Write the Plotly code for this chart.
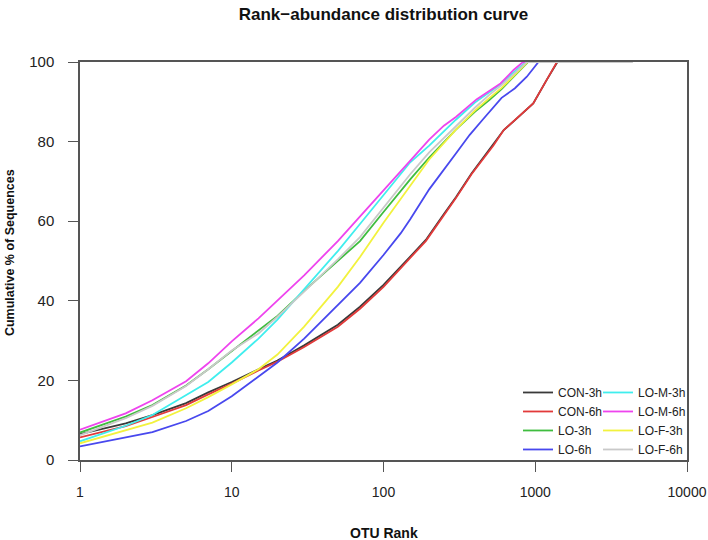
import plotly.graph_objects as go

# ---------------- data ----------------
series_names = ["CON-3h", "CON-6h", "LO-3h", "LO-6h", "LO-M-3h", "LO-M-6h", "LO-F-3h", "LO-F-6h"]

con3h_rank = [1, 2, 3, 5, 7, 10, 15, 20, 30, 50, 70, 100, 150, 190, 250, 300, 380, 450, 530, 620, 735, 970, 1190, 1400, 2500]
con3h_pct = [6.5, 9.2, 11.3, 14.3, 17.0, 19.6, 22.8, 25.0, 28.8, 34.0, 38.5, 44.0, 51.1, 55.3, 61.8, 66.0, 72.0, 75.8, 79.2, 82.9, 85.4, 89.6, 95.5, 100, 100]

con6h_rank = [1, 2, 3, 5, 7, 10, 15, 20, 30, 50, 70, 100, 150, 190, 250, 300, 380, 450, 530, 620, 735, 970, 1190, 1390, 2800]
con6h_pct = [5.7, 8.5, 10.8, 13.8, 16.5, 19.2, 22.5, 24.7, 28.4, 33.5, 38.0, 43.5, 50.8, 55.0, 61.5, 65.8, 71.8, 75.6, 79.0, 82.9, 85.4, 89.6, 95.5, 100, 100]

lo3h_rank = [1, 2, 3, 5, 7, 10, 15, 20, 30, 50, 70, 100, 150, 200, 300, 400, 500, 600, 700, 895, 3000]
lo3h_pct = [6.9, 10.9, 13.8, 18.7, 22.8, 27.3, 32.6, 36.2, 42.5, 50.0, 55.0, 62.3, 70.5, 76.0, 83.0, 87.5, 90.5, 93.2, 95.8, 100, 100]

lo6h_rank = [1, 2, 3, 5, 7, 10, 15, 20, 30, 50, 70, 100, 130, 150, 200, 300, 370, 450, 520, 600, 735, 880, 1050, 3500]
lo6h_pct = [3.4, 5.6, 7.0, 9.8, 12.3, 16.0, 21.0, 24.5, 30.5, 38.8, 44.5, 51.5, 57.0, 60.5, 68.0, 77.0, 81.7, 85.5, 88.4, 91.0, 93.4, 96.3, 100, 100]

lom3h_rank = [1, 2, 3, 5, 7, 10, 15, 20, 30, 50, 70, 100, 150, 200, 300, 400, 500, 600, 700, 870, 2600]
lom3h_pct = [4.7, 8.6, 11.3, 16.3, 19.6, 24.5, 30.5, 35.3, 42.8, 52.5, 59.3, 66.5, 74.8, 79.0, 85.5, 89.8, 92.5, 94.6, 97.0, 100, 100]

lom6h_rank = [1, 2, 3, 5, 7, 10, 15, 20, 30, 50, 70, 100, 150, 200, 250, 300, 410, 500, 590, 720, 830, 3200]
lom6h_pct = [7.6, 11.7, 15.0, 19.8, 24.3, 29.8, 35.6, 40.0, 46.4, 55.0, 61.2, 68.0, 75.2, 80.5, 84.0, 86.2, 90.6, 92.8, 94.6, 98.0, 100, 100]

lof3h_rank = [1, 2, 3, 5, 7, 10, 15, 20, 30, 50, 70, 100, 150, 200, 300, 400, 500, 600, 700, 890, 3800]
lof3h_pct = [4.2, 7.4, 9.4, 13.0, 15.8, 19.0, 22.8, 26.5, 33.5, 43.5, 51.0, 59.6, 69.0, 75.5, 83.0, 87.8, 91.0, 93.5, 96.0, 100, 100]

lof6h_rank = [1, 2, 3, 5, 7, 10, 15, 20, 30, 50, 70, 100, 150, 200, 300, 400, 500, 600, 700, 880, 4400]
lof6h_pct = [6.2, 10.5, 13.6, 18.6, 22.8, 27.5, 31.8, 36.0, 42.3, 50.4, 56.0, 63.4, 71.8, 77.3, 84.0, 88.5, 91.8, 94.2, 96.5, 100, 100]

x_tick_vals = [1, 10, 100, 1000, 10000]
x_tick_text = ["1", "10", "100", "1000", "10000"]
y_tick_vals = [0, 20, 40, 60, 80, 100]

# ---------------- styling ----------------
colors = ["#3a3a3a", "#e23a3a", "#3fbd3f", "#4848ee", "#40eeee", "#ee44ee", "#f2f23e", "#c9c9c9"]
all_ranks = [con3h_rank, con6h_rank, lo3h_rank, lo6h_rank, lom3h_rank, lom6h_rank, lof3h_rank, lof6h_rank]
all_pcts = [con3h_pct, con6h_pct, lo3h_pct, lo6h_pct, lom3h_pct, lom6h_pct, lof3h_pct, lof6h_pct]

FONT = "Arial, Liberation Sans, sans-serif"
AXC = "#555555"

fig = go.Figure()
for i, (name, xr, yp, col) in enumerate(zip(series_names, all_ranks, all_pcts, colors)):
    fig.add_trace(go.Scatter(
        x=xr, y=yp, mode="lines", name=name,
        line=dict(color=col, width=1.8),
        legend="legend" if i < 4 else "legend2",
    ))

legend_common = dict(
    font=dict(family=FONT, size=12, color="#222222"),
    bgcolor="rgba(0,0,0,0)", borderwidth=0,
    yanchor="bottom", y=-0.01, xanchor="left",
    tracegroupgap=0,
)

fig.update_layout(
    width=708, height=540,
    margin=dict(l=80, r=21, t=62, b=80, autoexpand=False),
    paper_bgcolor="white", plot_bgcolor="white",
    font=dict(family=FONT, color="#222222"),
    title=dict(
        text="Rank\u2212abundance distribution curve",
        font=dict(family=FONT, size=17, weight="bold", color="#111111"),
        x=0.5, xref="paper", xanchor="center",
        y=1 - 14 / 540, yref="container", yanchor="middle",
    ),
    legend=dict(x=0.7216, **legend_common),
    legend2=dict(x=0.8534, **legend_common),
    xaxis=dict(
        type="log", range=[0, 4],
        tickvals=x_tick_vals, ticktext=x_tick_text,
        ticks="outside", ticklen=10, tickwidth=1.3, tickcolor=AXC,
        showline=True, linecolor=AXC, linewidth=1.5, mirror=True,
        showgrid=False, zeroline=False, layer="below traces",
        tickfont=dict(family=FONT, size=14, color="#222222"),
        ticklabelstandoff=8,
    ),
    yaxis=dict(
        range=[0, 100],
        tickvals=y_tick_vals,
        ticks="outside", ticklen=10, tickwidth=1.3, tickcolor=AXC,
        showline=True, linecolor=AXC, linewidth=1.5, mirror=True,
        showgrid=False, zeroline=False, layer="below traces",
        tickfont=dict(family=FONT, size=15, color="#222222"),
        ticklabelstandoff=11,
    ),
    annotations=[
        dict(text="<b>OTU Rank</b>", xref="paper", yref="paper", x=0.5, y=(460 - 533) / 398,
             xanchor="center", yanchor="middle", showarrow=False,
             font=dict(family=FONT, size=14, color="#111111")),
        dict(text="<b>Cumulative % of Sequences</b>", xref="paper", yref="paper",
             x=(10 - 80) / 607, y=0.52, xanchor="center", yanchor="middle",
             textangle=-90, showarrow=False,
             font=dict(family=FONT, size=12.5, color="#111111")),
    ],
)

fig.write_html("out.html", config={"displayModeBar": False},
               post_script="document.body.style.margin='0';")
